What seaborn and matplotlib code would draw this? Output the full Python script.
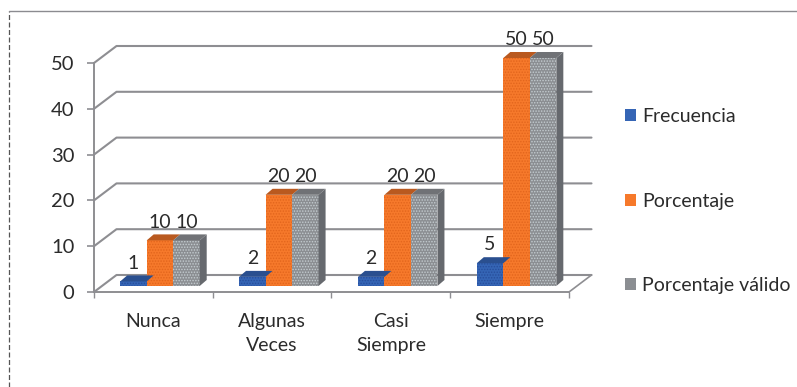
import matplotlib
matplotlib.use("Agg")
import matplotlib.pyplot as plt
from matplotlib.lines import Line2D
from matplotlib.patches import Polygon
import pandas as pd
import seaborn as sns

categories = ["Nunca", "Algunas\nVeces", "Casi\nSiempre", "Siempre"]
frecuencia = [1, 2, 2, 5]
porcentaje = [10, 20, 20, 50]
porcentaje_valido = [10, 20, 20, 50]
series_names = ["Frecuencia", "Porcentaje", "Porcentaje válido"]
y_ticks = [0, 10, 20, 30, 40, 50]

W, H = 797, 387
sns.set_theme(style="white")
plt.rcParams["font.family"] = ["Lato", "DejaVu Sans"]
plt.rcParams["hatch.linewidth"] = 0.7
TEXT = "#2b2b2b"
GRID = "#8e8e92"
FILL = ["#3565b5", "#f6792b", "#8b8e92"]
TOP = ["#2a4f8f", "#b9591f", "#707276"]
SIDE = "#66696e"
DOTS = ["#274e9c", "#e2651c", "#c4ccd0"]

fig = plt.figure(figsize=(W / 100, H / 100), dpi=100, facecolor="white")


def pixel_axes(left, right, base, top):
    return fig.add_axes([left / W, 1 - base / H, (right - left) / W, (base - top) / H])


# Front plane of the chart: axis lines, ticks, category labels
frame = pixel_axes(94, 569, 292, 63)
frame.set_xlim(-0.5, 3.5)
frame.set_ylim(0, 50)
frame.patch.set_visible(False)
for name in ["top", "right"]:
    frame.spines[name].set_visible(False)
for name in ["left", "bottom"]:
    frame.spines[name].set_color(GRID)
    frame.spines[name].set_linewidth(1.4)
frame.set_yticks(y_ticks)
frame.set_xticks(range(len(categories)))
frame.set_xticklabels(categories, linespacing=1.5)
frame.set_xticks([-0.5, 0.5, 1.5, 2.5, 3.5], minor=True)
frame.tick_params(axis="y", left=True, length=5, width=1.2, color=GRID, pad=9,
                  labelsize=14.5, labelcolor=TEXT)
frame.tick_params(axis="x", which="major", bottom=False, pad=9, labelsize=14, labelcolor=TEXT)
frame.tick_params(axis="x", which="minor", bottom=True, length=4, width=1, color=GRID)

# Back wall and floor, offset from the front plane by the chart depth
depth_x = 22.5 / 118.75
depth_y = 17 * 50 / 229
for value in y_ticks:
    frame.plot([-0.5, -0.5 + depth_x, 3.5 + depth_x],
               [value, value + depth_y, value + depth_y],
               color=GRID, lw=1.5, clip_on=False, zorder=1)
frame.plot([3.5, 3.5 + depth_x], [0, depth_y], color=GRID, lw=1.2, clip_on=False, zorder=1)

# Bars, standing in the middle of the floor
bars = pixel_axes(100.5, 576, 286, 58)
bars.patch.set_visible(False)
table = pd.DataFrame({
    "categoria": categories * 3,
    "serie": [s for s in series_names for _ in categories],
    "valor": frecuencia + porcentaje + porcentaje_valido,
})
sns.barplot(data=table, x="categoria", y="valor", hue="serie", hue_order=series_names,
            palette=FILL, saturation=1, width=0.669, gap=0, legend=True, ax=bars,
            linewidth=0)
bars.set_xlim(-0.5, 3.5)
bars.set_ylim(0, 50)
bars.axis("off")

bar_dx = 7 / 118.9
bar_dy = 6 * 50 / 228
for i, container in enumerate(bars.containers):
    for patch in container:
        patch.set_hatch("......")
        patch.set_edgecolor(DOTS[i])
        patch.set_linewidth(0)
        x0, w, h = patch.get_x(), patch.get_width(), patch.get_height()
        bars.add_patch(Polygon([(x0, h), (x0 + w, h), (x0 + w + bar_dx, h + bar_dy), (x0 + bar_dx, h + bar_dy)],
                               closed=True, facecolor=TOP[i], edgecolor="none", clip_on=False, zorder=3))
        if i == len(series_names) - 1:
            bars.add_patch(Polygon([(x0 + w, 0), (x0 + w + bar_dx, bar_dy), (x0 + w + bar_dx, h + bar_dy), (x0 + w, h)],
                                   closed=True, facecolor=SIDE, edgecolor="none", clip_on=False, zorder=3))
    bars.bar_label(container, padding=7, fontsize=14, color=TEXT, clip_on=False)

# Legend to the right of the plot
handles, labels = bars.get_legend_handles_labels()
bars.legend(handles, labels, loc="center left", bbox_to_anchor=(625 / W, 1 - 201 / H),
            bbox_transform=fig.transFigure, frameon=False, fontsize=14,
            labelcolor=TEXT, handlelength=0.58, handleheight=0.58, handletextpad=0.3,
            labelspacing=3.46, borderpad=0, borderaxespad=0)

# Outer chart border
fig.add_artist(Line2D([9 / W, 9 / W], [0, 1 - 11 / H], color="#555555", lw=0.9, ls=(0, (4, 2))))
fig.add_artist(Line2D([9 / W, 1], [1 - 10.5 / H, 1 - 10.5 / H], color="#8b8b90", lw=1.0))

fig.savefig("out.png", dpi=100, facecolor="white")
